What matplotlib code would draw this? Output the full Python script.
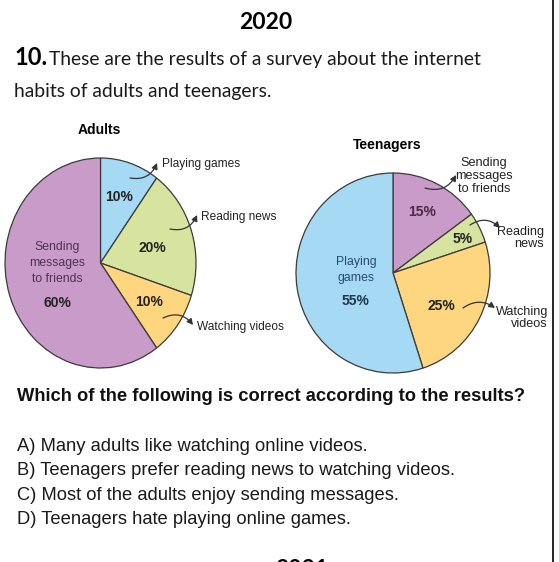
import matplotlib
matplotlib.use("Agg")
import matplotlib.pyplot as plt

W, H = 559, 562

# data
adult_labels = ["Playing games", "Reading news", "Watching videos", "Sending messages to friends"]
adult_values = [10, 20, 10, 60]
teen_labels = ["Sending messages to friends", "Reading news", "Watching videos", "Playing games"]
teen_values = [15, 5, 25, 55]

BLUE = "#a5d9f4"
GREEN = "#d6e4a0"
YELLOW = "#fdd67f"
PURPLE = "#c99bc8"
adult_colors = [BLUE, GREEN, YELLOW, PURPLE]
teen_colors = [PURPLE, GREEN, YELLOW, BLUE]

question = "Which of the following is correct according to the results?"
options = [
    "A) Many adults like watching online videos.",
    "B) Teenagers prefer reading news to watching videos.",
    "C) Most of the adults enjoy sending messages.",
    "D) Teenagers hate playing online games.",
]

NARROW = ["Liberation Sans Narrow", "Liberation Sans", "DejaVu Sans"]
ARIAL = ["Liberation Sans", "DejaVu Sans"]
CAL = ["Lato", "DejaVu Sans"]

fig = plt.figure(figsize=(W / 100, H / 100), dpi=100)
fig.patch.set_facecolor("white")


def px_axes(x0, y0, x1, y1):
    # axes from pixel box (top-left origin)
    return fig.add_axes([x0 / W, 1 - y1 / H, (x1 - x0) / W, (y1 - y0) / H])


def draw_pie(box, values, colors):
    a = px_axes(*box)
    a.pie(values, colors=colors, startangle=90, counterclock=False,
          wedgeprops=dict(edgecolor="#3b3b3b", linewidth=0.9, clip_on=False))
    a.set_aspect("auto")
    a.set_xlim(-1, 1)
    a.set_ylim(-1, 1)
    a.axis("off")
    return a


draw_pie((5, 158, 196, 368), adult_values, adult_colors)
draw_pie((296, 173, 490, 373), teen_values, teen_colors)

# overlay in pixel coordinates for texts
ax = fig.add_axes([0, 0, 1, 1])
ax.set_xlim(0, W)
ax.set_ylim(H, 0)
ax.axis("off")
ax.patch.set_alpha(0)

# header
ax.text(266, 29, "2020", family=CAL, weight="bold", fontsize=16.5, ha="center", va="baseline")
ax.text(14, 65, "10.", family=CAL, weight="bold", fontsize=17, va="baseline")
ax.text(49, 65, "These are the results of a survey about the internet", family=CAL,
        fontsize=13.9, va="baseline", color="#1a1a1a")
ax.text(14, 97, "habits of adults and teenagers.", family=CAL, fontsize=13.9,
        va="baseline", color="#1a1a1a")

# pie titles
ax.text(99, 130, "Adults", family=ARIAL, weight="bold", fontsize=10, ha="center", va="center")
ax.text(387, 145, "Teenagers", family=ARIAL, weight="bold", fontsize=10, ha="center", va="center")

# inside labels
pct = dict(family=ARIAL, weight="bold", fontsize=10, ha="center", va="center", color="#222222")
ax.text(119, 197, f"{adult_values[0]}%", **pct)
ax.text(152, 248, f"{adult_values[1]}%", **pct)
ax.text(149, 302, f"{adult_values[2]}%", **pct)
ax.text(57, 303, f"{adult_values[3]}%", **pct)
ax.text(57, 263, "Sending\nmessages\nto friends", family=NARROW, fontsize=8.8, ha="center",
        va="center", color="#4a3450", linespacing=1.45)

ax.text(422, 212, f"{teen_values[0]}%", **dict(pct, color="#4a2a4a"))
ax.text(463, 239, f"{teen_values[1]}%", **pct)
ax.text(441, 306, f"{teen_values[2]}%", **pct)
ax.text(356, 301, f"{teen_values[3]}%", **dict(pct, color="#1f3550"))
ax.text(356, 270, "Playing\ngames", family=NARROW, fontsize=8.8, ha="center", va="center",
        color="#2a4a6a", linespacing=1.45)

# outside labels with curved arrows
lab = dict(family=NARROW, fontsize=8.6, color="#222222", linespacing=1.15)
tlab = dict(lab, fontsize=9.1, linespacing=1.1)
arr = dict(arrowstyle="-|>,head_length=0.35,head_width=0.18", color="#333333", lw=0.9,
           shrinkA=0, shrinkB=0)


def callout(x0, y0, x1, y1, rad):
    ax.annotate("", xy=(x1, y1), xytext=(x0, y0),
                arrowprops=dict(arr, connectionstyle=f"arc3,rad={rad}"))


ax.text(162, 164, "Playing games", ha="left", va="center", **lab)
callout(130, 178, 157, 163, 0.4)
ax.text(201, 217, "Reading news", ha="left", va="center", **lab)
callout(170, 229, 197, 215, 0.4)
ax.text(197, 327, "Watching videos", ha="left", va="center", **lab)
callout(163, 318, 193, 325, -0.4)

ax.text(484, 176, "Sending\nmessages\nto friends", ha="center", va="center", **tlab)
callout(425, 188, 456, 175, 0.4)
ax.text(544, 238, "Reading\nnews", ha="right", va="center", multialignment="right", **tlab)
callout(470, 225, 500, 228, -0.4)
ax.text(548, 318, "Watching\nvideos", ha="right", va="center", multialignment="right", **tlab)
callout(463, 308, 495, 308, -0.35)

# question and options
ax.text(17, 401, question, family=ARIAL, weight="bold", fontsize=13.2, va="baseline", color="#111111")
for i, opt in enumerate(options):
    ax.text(17, 451 + i * 24.3, opt, family=ARIAL, fontsize=13.2, va="baseline", color="#1a1a1a")

# next heading, only its top shows at the page bottom, and page border
ax.text(302, 576, "2021", family=CAL, weight="bold", fontsize=16.5, ha="center", va="baseline")
ax.plot([553, 553], [0, H], color="black", lw=1.2)

fig.savefig("out.png", dpi=100, facecolor="white")
